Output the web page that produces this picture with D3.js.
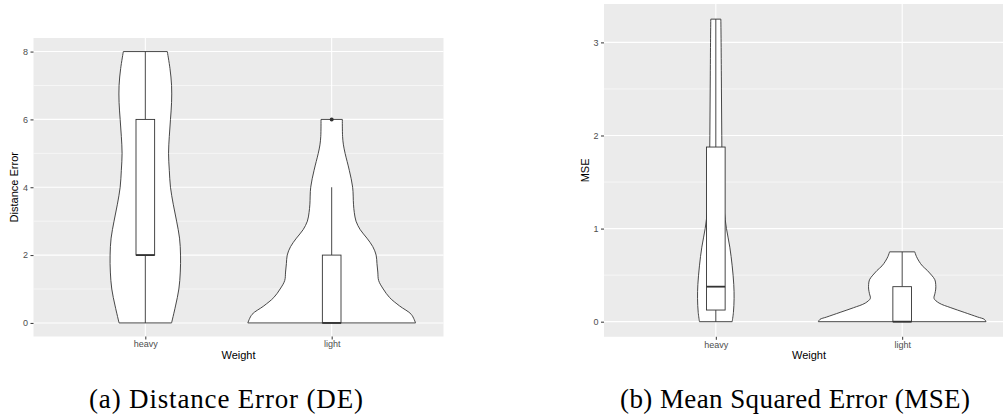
<!DOCTYPE html>
<html>
<head>
<meta charset="utf-8">
<script src="https://cdn.jsdelivr.net/npm/d3@7"></script>
<style>
  body { margin: 0; background: #fff; }
  svg { display: block; }
  .tick text { font-family: "Liberation Sans", Arial, sans-serif; font-size: 9px; fill: #4d4d4d; }
  .tick line { stroke: #333; stroke-width: 1; }
  .title { font-family: "Liberation Sans", Arial, sans-serif; font-size: 11px; fill: #000; }
  .caption { font-family: "Liberation Serif", "Times New Roman", serif; font-size: 27px; fill: #000; }
</style>
</head>
<body>
<script>
"use strict";

var w = 1003,
  h = 418;

var groups = ["heavy", "light"];

// distance error: violin profiles as [value, relative density]
var deHeavyDensity = [
  [0, 0.313], [0.5, 0.36], [1, 0.4], [1.5, 0.417], [2, 0.42], [2.5, 0.408],
  [3, 0.373], [3.5, 0.333], [4, 0.3], [4.5, 0.286], [5, 0.277], [5.5, 0.286],
  [6, 0.3], [6.5, 0.313], [7, 0.313], [7.5, 0.294], [8, 0.262]
];
var deLightDensity = [
  [0, 1.0], [0.25, 0.95], [0.5, 0.81], [0.75, 0.69], [1, 0.615], [1.25, 0.56],
  [1.5, 0.55], [1.75, 0.54], [2, 0.53], [2.25, 0.49], [2.5, 0.42], [2.75, 0.34],
  [3, 0.29], [3.25, 0.27], [3.5, 0.26], [4, 0.25], [4.5, 0.21], [5, 0.16],
  [5.25, 0.14], [5.5, 0.13], [6, 0.127]
];
// box stats: min, q1, median, q3, max (whisker ends)
var deHeavyBox = [0, 2, 2, 6, 8];
var deLightBox = [0, 0, 0, 2, 4];
var deHeavyOutliers = [];
var deLightOutliers = [6];
var deTicks = [0, 2, 4, 6, 8];
var deMinor = [1, 3, 5, 7];

// mean squared error
var mseHeavyDensity = [
  [0, 0.195], [0.1, 0.21], [0.25, 0.218], [0.4, 0.214], [0.6, 0.195],
  [0.8, 0.167], [1, 0.127], [1.2, 0.1], [1.5, 0.079], [2, 0.071],
  [2.5, 0.067], [3, 0.063], [3.25, 0.06]
];
var mseLightDensity = [
  [0, 1.0], [0.025, 0.98], [0.05, 0.9], [0.1, 0.74], [0.15, 0.58], [0.2, 0.44],
  [0.25, 0.38], [0.3, 0.39], [0.35, 0.4], [0.4, 0.4], [0.45, 0.39], [0.5, 0.35],
  [0.55, 0.3], [0.6, 0.24], [0.65, 0.2], [0.7, 0.17], [0.75, 0.15]
];
var mseHeavyBox = [0, 0.125, 0.376, 1.876, 3.25];
var mseLightBox = [0, 0, 0, 0.376, 0.75];
var mseTicks = [0, 1, 2, 3];
var mseMinor = [0.5, 1.5, 2.5];

var svg = d3
  .select("body")
  .append("svg")
  .attr("width", w)
  .attr("height", h);

//draws one ggplot-like violin panel
function drawPanel(p) {
  var x = d3
    .scalePoint()
    .domain(groups)
    .range([p.left, p.right])
    .padding(0.6);
  var step = x.step();

  var ext = d3.extent(p.limits);
  var pad = (ext[1] - ext[0]) * 0.05;
  var y = d3
    .scaleLinear()
    .domain([ext[0] - pad, ext[1] + pad])
    .range([p.bottom, p.top]);

  var g = svg.append("g");

  g.append("rect")
    .attr("x", p.left)
    .attr("y", p.top)
    .attr("width", p.right - p.left)
    .attr("height", p.bottom - p.top)
    .attr("fill", "#ebebeb");

  g.selectAll(".minor")
    .data(p.minor)
    .enter()
    .append("line")
    .attr("x1", p.left)
    .attr("x2", p.right)
    .attr("y1", function(d) { return y(d); })
    .attr("y2", function(d) { return y(d); })
    .attr("stroke", "#fff")
    .attr("stroke-width", 0.55);

  g.selectAll(".major")
    .data(p.ticks)
    .enter()
    .append("line")
    .attr("x1", p.left)
    .attr("x2", p.right)
    .attr("y1", function(d) { return y(d); })
    .attr("y2", function(d) { return y(d); })
    .attr("stroke", "#fff")
    .attr("stroke-width", 1.1);

  g.selectAll(".vgrid")
    .data(groups)
    .enter()
    .append("line")
    .attr("x1", function(d) { return x(d); })
    .attr("x2", function(d) { return x(d); })
    .attr("y1", p.top)
    .attr("y2", p.bottom)
    .attr("stroke", "#fff")
    .attr("stroke-width", 1.1);

  groups.forEach(function(name, i) {
    var cx = x(name);
    var area = d3
      .area()
      .curve(d3.curveCatmullRom)
      .y(function(d) { return y(d[0]); })
      .x0(function(d) { return cx - d[1] * 0.45 * step; })
      .x1(function(d) { return cx + d[1] * 0.45 * step; });

    g.append("path")
      .attr("d", area(p.density[i]))
      .attr("fill", "#fff")
      .attr("stroke", "#333")
      .attr("stroke-width", 0.9);

    var b = p.box[i];
    var bw = 0.05 * step;

    g.append("line")
      .attr("x1", cx).attr("x2", cx)
      .attr("y1", y(b[0])).attr("y2", y(b[1]))
      .attr("stroke", "#333").attr("stroke-width", 0.9);
    g.append("line")
      .attr("x1", cx).attr("x2", cx)
      .attr("y1", y(b[3])).attr("y2", y(b[4]))
      .attr("stroke", "#333").attr("stroke-width", 0.9);

    g.append("rect")
      .attr("x", cx - bw)
      .attr("y", y(b[3]))
      .attr("width", 2 * bw)
      .attr("height", y(b[1]) - y(b[3]))
      .attr("fill", "#fff")
      .attr("stroke", "#333")
      .attr("stroke-width", 0.9);

    g.append("line")
      .attr("x1", cx - bw).attr("x2", cx + bw)
      .attr("y1", y(b[2])).attr("y2", y(b[2]))
      .attr("stroke", "#333").attr("stroke-width", 1.8);

    g.selectAll(".out" + i)
      .data(p.outliers[i])
      .enter()
      .append("circle")
      .attr("cx", cx)
      .attr("cy", function(d) { return y(d); })
      .attr("r", 2)
      .attr("fill", "#333");
  });

  g.append("g")
    .attr("transform", "translate(" + p.left + ",0)")
    .call(d3.axisLeft(y).tickValues(p.ticks).tickFormat(d3.format("d")).tickSize(3).tickPadding(2.5))
    .call(function(a) { a.select(".domain").remove(); });

  g.append("g")
    .attr("transform", "translate(0," + p.bottom + ")")
    .call(d3.axisBottom(x).tickSize(3).tickPadding(1.5))
    .call(function(a) { a.select(".domain").remove(); });

  g.append("text")
    .attr("class", "title")
    .attr("text-anchor", "middle")
    .attr("x", (p.left + p.right) / 2)
    .attr("y", p.bottom + 22)
    .text("Weight");

  g.append("text")
    .attr("class", "title")
    .attr("text-anchor", "middle")
    .attr("transform", "translate(" + p.ylabX + "," + (p.top + p.bottom) / 2 + ") rotate(-90)")
    .text(p.ylab);

  svg.append("text")
    .attr("class", "caption")
    .attr("text-anchor", "middle")
    .attr("x", p.capX)
    .attr("y", 407.5)
    .attr("textLength", p.capW)
    .attr("lengthAdjust", "spacing")
    .text(p.caption);
}

drawPanel({
  left: 33.5, right: 443.5, top: 38, bottom: 336.5,
  limits: [0, 8],
  ticks: deTicks, minor: deMinor,
  density: [deHeavyDensity, deLightDensity],
  box: [deHeavyBox, deLightBox],
  outliers: [deHeavyOutliers, deLightOutliers],
  ylab: "Distance Error", ylabX: 18,
  caption: "(a) Distance Error (DE)", capX: 226, capW: 274
});

drawPanel({
  left: 604, right: 1014, top: 4, bottom: 336.8,
  limits: [0, 3.25],
  ticks: mseTicks, minor: mseMinor,
  density: [mseHeavyDensity, mseLightDensity],
  box: [mseHeavyBox, mseLightBox],
  outliers: [[], []],
  ylab: "MSE", ylabX: 589,
  caption: "(b) Mean Squared Error (MSE)", capX: 795, capW: 350
});
</script>
</body>
</html>
